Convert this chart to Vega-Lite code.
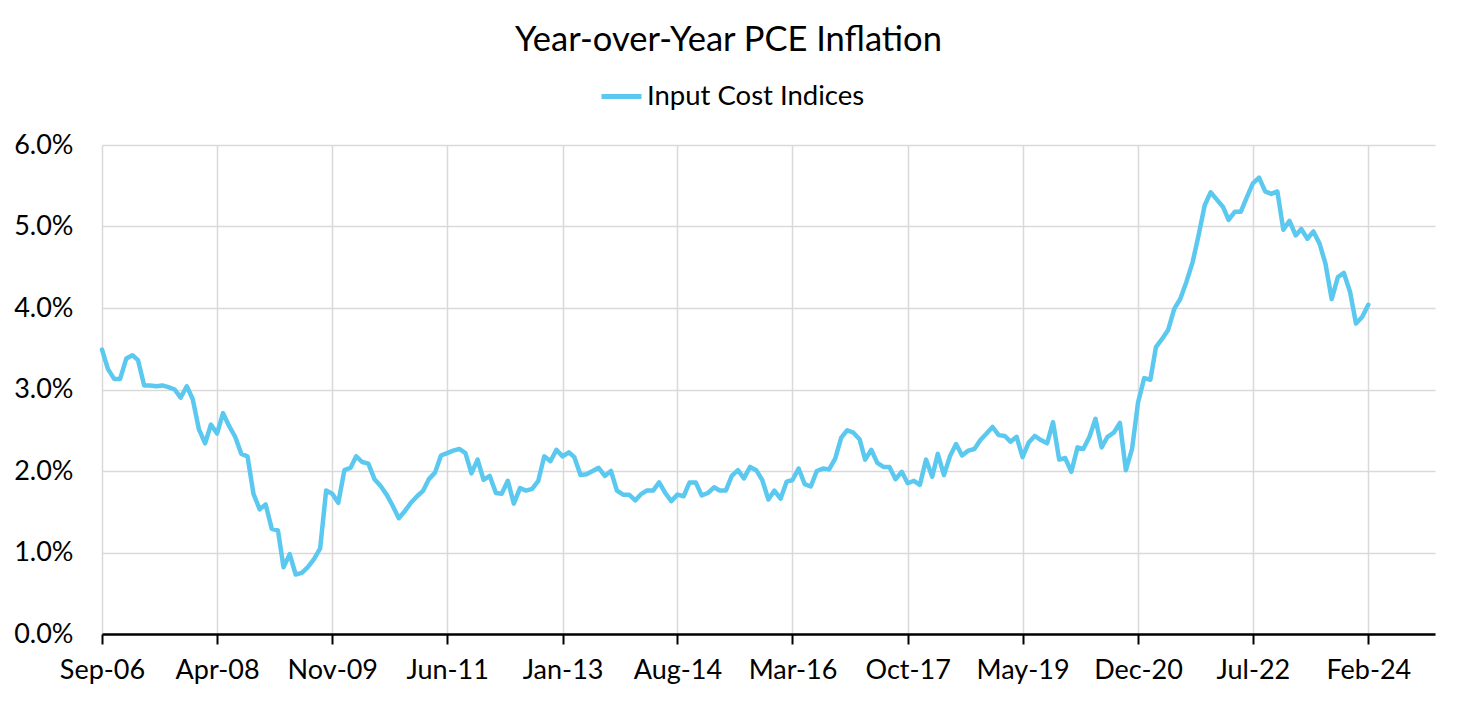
{
  "$schema": "https://vega.github.io/schema/vega-lite/v6.json",
  "width": 1333,
  "height": 489,
  "autosize": {"type": "none"},
  "padding": {"left": 102, "top": 145, "right": 23, "bottom": 68},
  "background": "white",
  "config": {
    "font": "Lato",
    "view": {"stroke": null},
    "axis": {"labelFont": "Lato", "labelColor": "#000000", "gridColor": "#d9d9d9", "gridWidth": 1.5}
  },
  "title": {
    "text": "Year-over-Year PCE Inflation",
    "font": "Lato",
    "fontSize": 34.5,
    "fontWeight": "normal",
    "color": "#000000",
    "anchor": "middle",
    "dx": -40,
    "offset": 16
  },
  "data": {
    "values": [
      {"date": "2006-09-01", "series": "Input Cost Indices", "value": 3.49},
      {"date": "2006-10-01", "series": "Input Cost Indices", "value": 3.25},
      {"date": "2006-11-01", "series": "Input Cost Indices", "value": 3.13},
      {"date": "2006-12-01", "series": "Input Cost Indices", "value": 3.13},
      {"date": "2007-01-01", "series": "Input Cost Indices", "value": 3.38},
      {"date": "2007-02-01", "series": "Input Cost Indices", "value": 3.42},
      {"date": "2007-03-01", "series": "Input Cost Indices", "value": 3.36},
      {"date": "2007-04-01", "series": "Input Cost Indices", "value": 3.05},
      {"date": "2007-05-01", "series": "Input Cost Indices", "value": 3.05},
      {"date": "2007-06-01", "series": "Input Cost Indices", "value": 3.04},
      {"date": "2007-07-01", "series": "Input Cost Indices", "value": 3.05},
      {"date": "2007-08-01", "series": "Input Cost Indices", "value": 3.03},
      {"date": "2007-09-01", "series": "Input Cost Indices", "value": 3.00},
      {"date": "2007-10-01", "series": "Input Cost Indices", "value": 2.90},
      {"date": "2007-11-01", "series": "Input Cost Indices", "value": 3.04},
      {"date": "2007-12-01", "series": "Input Cost Indices", "value": 2.88},
      {"date": "2008-01-01", "series": "Input Cost Indices", "value": 2.51},
      {"date": "2008-02-01", "series": "Input Cost Indices", "value": 2.34},
      {"date": "2008-03-01", "series": "Input Cost Indices", "value": 2.57},
      {"date": "2008-04-01", "series": "Input Cost Indices", "value": 2.46},
      {"date": "2008-05-01", "series": "Input Cost Indices", "value": 2.71},
      {"date": "2008-06-01", "series": "Input Cost Indices", "value": 2.55},
      {"date": "2008-07-01", "series": "Input Cost Indices", "value": 2.42},
      {"date": "2008-08-01", "series": "Input Cost Indices", "value": 2.21},
      {"date": "2008-09-01", "series": "Input Cost Indices", "value": 2.18},
      {"date": "2008-10-01", "series": "Input Cost Indices", "value": 1.72},
      {"date": "2008-11-01", "series": "Input Cost Indices", "value": 1.53},
      {"date": "2008-12-01", "series": "Input Cost Indices", "value": 1.59},
      {"date": "2009-01-01", "series": "Input Cost Indices", "value": 1.29},
      {"date": "2009-02-01", "series": "Input Cost Indices", "value": 1.27},
      {"date": "2009-03-01", "series": "Input Cost Indices", "value": 0.82},
      {"date": "2009-04-01", "series": "Input Cost Indices", "value": 0.98},
      {"date": "2009-05-01", "series": "Input Cost Indices", "value": 0.73},
      {"date": "2009-06-01", "series": "Input Cost Indices", "value": 0.75},
      {"date": "2009-07-01", "series": "Input Cost Indices", "value": 0.82},
      {"date": "2009-08-01", "series": "Input Cost Indices", "value": 0.92},
      {"date": "2009-09-01", "series": "Input Cost Indices", "value": 1.05},
      {"date": "2009-10-01", "series": "Input Cost Indices", "value": 1.76},
      {"date": "2009-11-01", "series": "Input Cost Indices", "value": 1.72},
      {"date": "2009-12-01", "series": "Input Cost Indices", "value": 1.61},
      {"date": "2010-01-01", "series": "Input Cost Indices", "value": 2.01},
      {"date": "2010-02-01", "series": "Input Cost Indices", "value": 2.04},
      {"date": "2010-03-01", "series": "Input Cost Indices", "value": 2.18},
      {"date": "2010-04-01", "series": "Input Cost Indices", "value": 2.11},
      {"date": "2010-05-01", "series": "Input Cost Indices", "value": 2.09},
      {"date": "2010-06-01", "series": "Input Cost Indices", "value": 1.90},
      {"date": "2010-07-01", "series": "Input Cost Indices", "value": 1.82},
      {"date": "2010-08-01", "series": "Input Cost Indices", "value": 1.71},
      {"date": "2010-09-01", "series": "Input Cost Indices", "value": 1.57},
      {"date": "2010-10-01", "series": "Input Cost Indices", "value": 1.42},
      {"date": "2010-11-01", "series": "Input Cost Indices", "value": 1.51},
      {"date": "2010-12-01", "series": "Input Cost Indices", "value": 1.61},
      {"date": "2011-01-01", "series": "Input Cost Indices", "value": 1.69},
      {"date": "2011-02-01", "series": "Input Cost Indices", "value": 1.76},
      {"date": "2011-03-01", "series": "Input Cost Indices", "value": 1.90},
      {"date": "2011-04-01", "series": "Input Cost Indices", "value": 1.98},
      {"date": "2011-05-01", "series": "Input Cost Indices", "value": 2.19},
      {"date": "2011-06-01", "series": "Input Cost Indices", "value": 2.22},
      {"date": "2011-07-01", "series": "Input Cost Indices", "value": 2.25},
      {"date": "2011-08-01", "series": "Input Cost Indices", "value": 2.27},
      {"date": "2011-09-01", "series": "Input Cost Indices", "value": 2.22},
      {"date": "2011-10-01", "series": "Input Cost Indices", "value": 1.97},
      {"date": "2011-11-01", "series": "Input Cost Indices", "value": 2.14},
      {"date": "2011-12-01", "series": "Input Cost Indices", "value": 1.89},
      {"date": "2012-01-01", "series": "Input Cost Indices", "value": 1.94},
      {"date": "2012-02-01", "series": "Input Cost Indices", "value": 1.73},
      {"date": "2012-03-01", "series": "Input Cost Indices", "value": 1.72},
      {"date": "2012-04-01", "series": "Input Cost Indices", "value": 1.88},
      {"date": "2012-05-01", "series": "Input Cost Indices", "value": 1.60},
      {"date": "2012-06-01", "series": "Input Cost Indices", "value": 1.79},
      {"date": "2012-07-01", "series": "Input Cost Indices", "value": 1.76},
      {"date": "2012-08-01", "series": "Input Cost Indices", "value": 1.78},
      {"date": "2012-09-01", "series": "Input Cost Indices", "value": 1.88},
      {"date": "2012-10-01", "series": "Input Cost Indices", "value": 2.18},
      {"date": "2012-11-01", "series": "Input Cost Indices", "value": 2.12},
      {"date": "2012-12-01", "series": "Input Cost Indices", "value": 2.26},
      {"date": "2013-01-01", "series": "Input Cost Indices", "value": 2.18},
      {"date": "2013-02-01", "series": "Input Cost Indices", "value": 2.23},
      {"date": "2013-03-01", "series": "Input Cost Indices", "value": 2.17},
      {"date": "2013-04-01", "series": "Input Cost Indices", "value": 1.95},
      {"date": "2013-05-01", "series": "Input Cost Indices", "value": 1.96},
      {"date": "2013-06-01", "series": "Input Cost Indices", "value": 2.00},
      {"date": "2013-07-01", "series": "Input Cost Indices", "value": 2.04},
      {"date": "2013-08-01", "series": "Input Cost Indices", "value": 1.94},
      {"date": "2013-09-01", "series": "Input Cost Indices", "value": 2.00},
      {"date": "2013-10-01", "series": "Input Cost Indices", "value": 1.76},
      {"date": "2013-11-01", "series": "Input Cost Indices", "value": 1.71},
      {"date": "2013-12-01", "series": "Input Cost Indices", "value": 1.71},
      {"date": "2014-01-01", "series": "Input Cost Indices", "value": 1.64},
      {"date": "2014-02-01", "series": "Input Cost Indices", "value": 1.72},
      {"date": "2014-03-01", "series": "Input Cost Indices", "value": 1.76},
      {"date": "2014-04-01", "series": "Input Cost Indices", "value": 1.76},
      {"date": "2014-05-01", "series": "Input Cost Indices", "value": 1.86},
      {"date": "2014-06-01", "series": "Input Cost Indices", "value": 1.73},
      {"date": "2014-07-01", "series": "Input Cost Indices", "value": 1.63},
      {"date": "2014-08-01", "series": "Input Cost Indices", "value": 1.71},
      {"date": "2014-09-01", "series": "Input Cost Indices", "value": 1.69},
      {"date": "2014-10-01", "series": "Input Cost Indices", "value": 1.86},
      {"date": "2014-11-01", "series": "Input Cost Indices", "value": 1.86},
      {"date": "2014-12-01", "series": "Input Cost Indices", "value": 1.70},
      {"date": "2015-01-01", "series": "Input Cost Indices", "value": 1.73},
      {"date": "2015-02-01", "series": "Input Cost Indices", "value": 1.80},
      {"date": "2015-03-01", "series": "Input Cost Indices", "value": 1.76},
      {"date": "2015-04-01", "series": "Input Cost Indices", "value": 1.76},
      {"date": "2015-05-01", "series": "Input Cost Indices", "value": 1.94},
      {"date": "2015-06-01", "series": "Input Cost Indices", "value": 2.01},
      {"date": "2015-07-01", "series": "Input Cost Indices", "value": 1.91},
      {"date": "2015-08-01", "series": "Input Cost Indices", "value": 2.05},
      {"date": "2015-09-01", "series": "Input Cost Indices", "value": 2.01},
      {"date": "2015-10-01", "series": "Input Cost Indices", "value": 1.89},
      {"date": "2015-11-01", "series": "Input Cost Indices", "value": 1.65},
      {"date": "2015-12-01", "series": "Input Cost Indices", "value": 1.76},
      {"date": "2016-01-01", "series": "Input Cost Indices", "value": 1.66},
      {"date": "2016-02-01", "series": "Input Cost Indices", "value": 1.87},
      {"date": "2016-03-01", "series": "Input Cost Indices", "value": 1.89},
      {"date": "2016-04-01", "series": "Input Cost Indices", "value": 2.03},
      {"date": "2016-05-01", "series": "Input Cost Indices", "value": 1.84},
      {"date": "2016-06-01", "series": "Input Cost Indices", "value": 1.81},
      {"date": "2016-07-01", "series": "Input Cost Indices", "value": 2.00},
      {"date": "2016-08-01", "series": "Input Cost Indices", "value": 2.03},
      {"date": "2016-09-01", "series": "Input Cost Indices", "value": 2.02},
      {"date": "2016-10-01", "series": "Input Cost Indices", "value": 2.15},
      {"date": "2016-11-01", "series": "Input Cost Indices", "value": 2.41},
      {"date": "2016-12-01", "series": "Input Cost Indices", "value": 2.50},
      {"date": "2017-01-01", "series": "Input Cost Indices", "value": 2.47},
      {"date": "2017-02-01", "series": "Input Cost Indices", "value": 2.39},
      {"date": "2017-03-01", "series": "Input Cost Indices", "value": 2.14},
      {"date": "2017-04-01", "series": "Input Cost Indices", "value": 2.26},
      {"date": "2017-05-01", "series": "Input Cost Indices", "value": 2.10},
      {"date": "2017-06-01", "series": "Input Cost Indices", "value": 2.05},
      {"date": "2017-07-01", "series": "Input Cost Indices", "value": 2.05},
      {"date": "2017-08-01", "series": "Input Cost Indices", "value": 1.90},
      {"date": "2017-09-01", "series": "Input Cost Indices", "value": 1.99},
      {"date": "2017-10-01", "series": "Input Cost Indices", "value": 1.85},
      {"date": "2017-11-01", "series": "Input Cost Indices", "value": 1.88},
      {"date": "2017-12-01", "series": "Input Cost Indices", "value": 1.83},
      {"date": "2018-01-01", "series": "Input Cost Indices", "value": 2.14},
      {"date": "2018-02-01", "series": "Input Cost Indices", "value": 1.93},
      {"date": "2018-03-01", "series": "Input Cost Indices", "value": 2.21},
      {"date": "2018-04-01", "series": "Input Cost Indices", "value": 1.95},
      {"date": "2018-05-01", "series": "Input Cost Indices", "value": 2.18},
      {"date": "2018-06-01", "series": "Input Cost Indices", "value": 2.33},
      {"date": "2018-07-01", "series": "Input Cost Indices", "value": 2.19},
      {"date": "2018-08-01", "series": "Input Cost Indices", "value": 2.25},
      {"date": "2018-09-01", "series": "Input Cost Indices", "value": 2.27},
      {"date": "2018-10-01", "series": "Input Cost Indices", "value": 2.38},
      {"date": "2018-11-01", "series": "Input Cost Indices", "value": 2.46},
      {"date": "2018-12-01", "series": "Input Cost Indices", "value": 2.54},
      {"date": "2019-01-01", "series": "Input Cost Indices", "value": 2.44},
      {"date": "2019-02-01", "series": "Input Cost Indices", "value": 2.43},
      {"date": "2019-03-01", "series": "Input Cost Indices", "value": 2.36},
      {"date": "2019-04-01", "series": "Input Cost Indices", "value": 2.42},
      {"date": "2019-05-01", "series": "Input Cost Indices", "value": 2.17},
      {"date": "2019-06-01", "series": "Input Cost Indices", "value": 2.35},
      {"date": "2019-07-01", "series": "Input Cost Indices", "value": 2.43},
      {"date": "2019-08-01", "series": "Input Cost Indices", "value": 2.38},
      {"date": "2019-09-01", "series": "Input Cost Indices", "value": 2.34},
      {"date": "2019-10-01", "series": "Input Cost Indices", "value": 2.60},
      {"date": "2019-11-01", "series": "Input Cost Indices", "value": 2.14},
      {"date": "2019-12-01", "series": "Input Cost Indices", "value": 2.16},
      {"date": "2020-01-01", "series": "Input Cost Indices", "value": 1.99},
      {"date": "2020-02-01", "series": "Input Cost Indices", "value": 2.29},
      {"date": "2020-03-01", "series": "Input Cost Indices", "value": 2.27},
      {"date": "2020-04-01", "series": "Input Cost Indices", "value": 2.42},
      {"date": "2020-05-01", "series": "Input Cost Indices", "value": 2.64},
      {"date": "2020-06-01", "series": "Input Cost Indices", "value": 2.29},
      {"date": "2020-07-01", "series": "Input Cost Indices", "value": 2.42},
      {"date": "2020-08-01", "series": "Input Cost Indices", "value": 2.47},
      {"date": "2020-09-01", "series": "Input Cost Indices", "value": 2.59},
      {"date": "2020-10-01", "series": "Input Cost Indices", "value": 2.01},
      {"date": "2020-11-01", "series": "Input Cost Indices", "value": 2.27},
      {"date": "2020-12-01", "series": "Input Cost Indices", "value": 2.84},
      {"date": "2021-01-01", "series": "Input Cost Indices", "value": 3.14},
      {"date": "2021-02-01", "series": "Input Cost Indices", "value": 3.12},
      {"date": "2021-03-01", "series": "Input Cost Indices", "value": 3.52},
      {"date": "2021-04-01", "series": "Input Cost Indices", "value": 3.62},
      {"date": "2021-05-01", "series": "Input Cost Indices", "value": 3.73},
      {"date": "2021-06-01", "series": "Input Cost Indices", "value": 3.99},
      {"date": "2021-07-01", "series": "Input Cost Indices", "value": 4.11},
      {"date": "2021-08-01", "series": "Input Cost Indices", "value": 4.32},
      {"date": "2021-09-01", "series": "Input Cost Indices", "value": 4.56},
      {"date": "2021-10-01", "series": "Input Cost Indices", "value": 4.89},
      {"date": "2021-11-01", "series": "Input Cost Indices", "value": 5.26},
      {"date": "2021-12-01", "series": "Input Cost Indices", "value": 5.42},
      {"date": "2022-01-01", "series": "Input Cost Indices", "value": 5.33},
      {"date": "2022-02-01", "series": "Input Cost Indices", "value": 5.24},
      {"date": "2022-03-01", "series": "Input Cost Indices", "value": 5.08},
      {"date": "2022-04-01", "series": "Input Cost Indices", "value": 5.18},
      {"date": "2022-05-01", "series": "Input Cost Indices", "value": 5.18},
      {"date": "2022-06-01", "series": "Input Cost Indices", "value": 5.36},
      {"date": "2022-07-01", "series": "Input Cost Indices", "value": 5.53},
      {"date": "2022-08-01", "series": "Input Cost Indices", "value": 5.60},
      {"date": "2022-09-01", "series": "Input Cost Indices", "value": 5.43},
      {"date": "2022-10-01", "series": "Input Cost Indices", "value": 5.40},
      {"date": "2022-11-01", "series": "Input Cost Indices", "value": 5.43},
      {"date": "2022-12-01", "series": "Input Cost Indices", "value": 4.96},
      {"date": "2023-01-01", "series": "Input Cost Indices", "value": 5.07},
      {"date": "2023-02-01", "series": "Input Cost Indices", "value": 4.89},
      {"date": "2023-03-01", "series": "Input Cost Indices", "value": 4.97},
      {"date": "2023-04-01", "series": "Input Cost Indices", "value": 4.85},
      {"date": "2023-05-01", "series": "Input Cost Indices", "value": 4.94},
      {"date": "2023-06-01", "series": "Input Cost Indices", "value": 4.79},
      {"date": "2023-07-01", "series": "Input Cost Indices", "value": 4.54},
      {"date": "2023-08-01", "series": "Input Cost Indices", "value": 4.11},
      {"date": "2023-09-01", "series": "Input Cost Indices", "value": 4.38},
      {"date": "2023-10-01", "series": "Input Cost Indices", "value": 4.43},
      {"date": "2023-11-01", "series": "Input Cost Indices", "value": 4.20},
      {"date": "2023-12-01", "series": "Input Cost Indices", "value": 3.81},
      {"date": "2024-01-01", "series": "Input Cost Indices", "value": 3.89},
      {"date": "2024-02-01", "series": "Input Cost Indices", "value": 4.04}
    ]
  },
  "mark": {"type": "line", "strokeWidth": 4.5, "strokeCap": "round", "strokeJoin": "round"},
  "encoding": {
    "x": {
      "field": "date",
      "type": "temporal",
      "scale": {"domain": ["2006-09-01T00:00:00", "2025-01-01T00:00:00"]},
      "axis": {
        "title": null,
        "values": [
          {"year": 2006, "month": 9, "date": 1},
          {"year": 2008, "month": 4, "date": 1},
          {"year": 2009, "month": 11, "date": 1},
          {"year": 2011, "month": 6, "date": 1},
          {"year": 2013, "month": 1, "date": 1},
          {"year": 2014, "month": 8, "date": 1},
          {"year": 2016, "month": 3, "date": 1},
          {"year": 2017, "month": 10, "date": 1},
          {"year": 2019, "month": 5, "date": 1},
          {"year": 2020, "month": 12, "date": 1},
          {"year": 2022, "month": 7, "date": 1},
          {"year": 2024, "month": 2, "date": 1}
        ],
        "format": "%b-%y",
        "grid": true,
        "domainColor": "#000000",
        "domainWidth": 2.5,
        "tickColor": "#000000",
        "tickWidth": 2,
        "tickSize": 10,
        "labelFontSize": 27,
        "labelPadding": 13,
        "labelFlush": false,
        "labelOverlap": false
      }
    },
    "y": {
      "field": "value",
      "type": "quantitative",
      "scale": {"domain": [0, 6]},
      "axis": {
        "title": null,
        "values": [0, 1, 2, 3, 4, 5, 6],
        "labelExpr": "format(datum.value, '.1f') + '%'",
        "labelFontSize": 27,
        "domain": false,
        "ticks": false,
        "labelPadding": 29,
        "grid": true
      }
    },
    "color": {
      "field": "series",
      "type": "nominal",
      "scale": {"range": ["#5BC8EF"]},
      "legend": {
        "title": null,
        "orient": "none",
        "legendX": 497,
        "legendY": -71,
        "direction": "horizontal",
        "symbolType": "stroke",
        "symbolStrokeWidth": 5,
        "symbolSize": 1600,
        "labelFontSize": 27.5,
        "labelFont": "Lato",
        "labelColor": "#000000",
        "labelOffset": 3,
        "labelLimit": 400
      }
    }
  }
}
